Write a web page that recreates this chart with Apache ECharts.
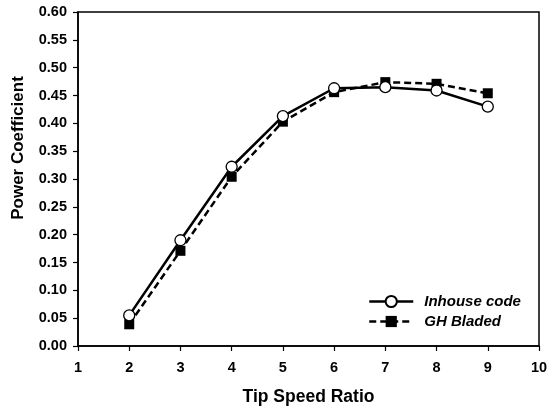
<!DOCTYPE html>
<html><head><meta charset="utf-8">
<script src="https://cdn.jsdelivr.net/npm/echarts@6/dist/echarts.min.js"></script>
<style>html,body{margin:0;padding:0;background:#fff}#c{width:548px;height:409px}</style>
</head><body><div id="c"></div>
<script>
const tsr = [2, 3, 4, 5, 6, 7, 8, 9];
const inhouse = [0.055, 0.190, 0.322, 0.413, 0.463, 0.465, 0.459, 0.430];
const ghBladed = [0.039, 0.171, 0.304, 0.403, 0.456, 0.474, 0.471, 0.454];
const seriesNames = ['Inhouse code', 'GH Bladed'];
const xTitle = 'Tip Speed Ratio';
const yTitle = 'Power Coefficient';

const font = 'Liberation Sans, Arial, sans-serif';
const chart = echarts.init(document.getElementById('c'), null, {renderer: 'canvas'});
chart.setOption({
  animation: false,
  backgroundColor: '#fff',
  grid: {left: 78, right: 9, top: 12, bottom: 63, outerBoundsMode: 'none', containLabel: false,
    show: true, borderColor: '#000', borderWidth: 1.5, backgroundColor: 'transparent'},
  xAxis: {
    type: 'value', min: 1, max: 10, interval: 1,
    name: xTitle, nameLocation: 'middle', nameGap: 42,
    nameTextStyle: {fontFamily: font, fontWeight: 'bold', fontSize: 17.5, color: '#000'},
    axisLine: {show: true, lineStyle: {color: '#000', width: 1.5}},
    axisTick: {show: true, length: 5, lineStyle: {color: '#000', width: 1.2}},
    axisLabel: {margin: 14, fontFamily: font, fontWeight: 'bold', fontSize: 14.5, color: '#000'},
    splitLine: {show: false}
  },
  yAxis: {
    type: 'value', min: 0, max: 0.6, interval: 0.05,
    axisLine: {show: true, lineStyle: {color: '#000', width: 1.5}},
    axisTick: {show: true, length: 5, lineStyle: {color: '#000', width: 1.2}},
    axisLabel: {margin: 11, fontFamily: font, fontWeight: 'bold', fontSize: 14.5, color: '#000',
      formatter: v => v.toFixed(2)},
    splitLine: {show: false}
  },
  graphic: [{
    type: 'text', x: 18, y: 148, rotation: Math.PI / 2,
    style: {text: yTitle, fontFamily: font, fontWeight: 'bold', fontSize: 17, fill: '#000',
      align: 'center', verticalAlign: 'middle'}
  }],
  legend: {
    orient: 'vertical', left: 368, top: 294, padding: 0, itemWidth: 44, itemHeight: 14, itemGap: 5,
    lineStyle: {width: 2.5},
    textStyle: {fontFamily: font, fontWeight: 'bold', fontStyle: 'italic', fontSize: 15, color: '#000',
      padding: [0, 0, 0, 6]},
    data: seriesNames
  },
  series: [
    {
      name: seriesNames[0], type: 'line',
      data: tsr.map((x, i) => [x, inhouse[i]]),
      symbol: 'circle', symbolSize: 11,
      lineStyle: {color: '#000', width: 2.5},
      itemStyle: {color: '#fff', borderColor: '#000', borderWidth: 1.3},
      z: 3
    },
    {
      name: seriesNames[1], type: 'line',
      data: tsr.map((x, i) => [x, ghBladed[i]]),
      symbol: 'rect', symbolSize: 10,
      lineStyle: {color: '#000', width: 2.5, type: [7, 4]},
      itemStyle: {color: '#000', borderColor: '#000', borderWidth: 0},
      z: 2
    }
  ]
});
</script></body></html>
